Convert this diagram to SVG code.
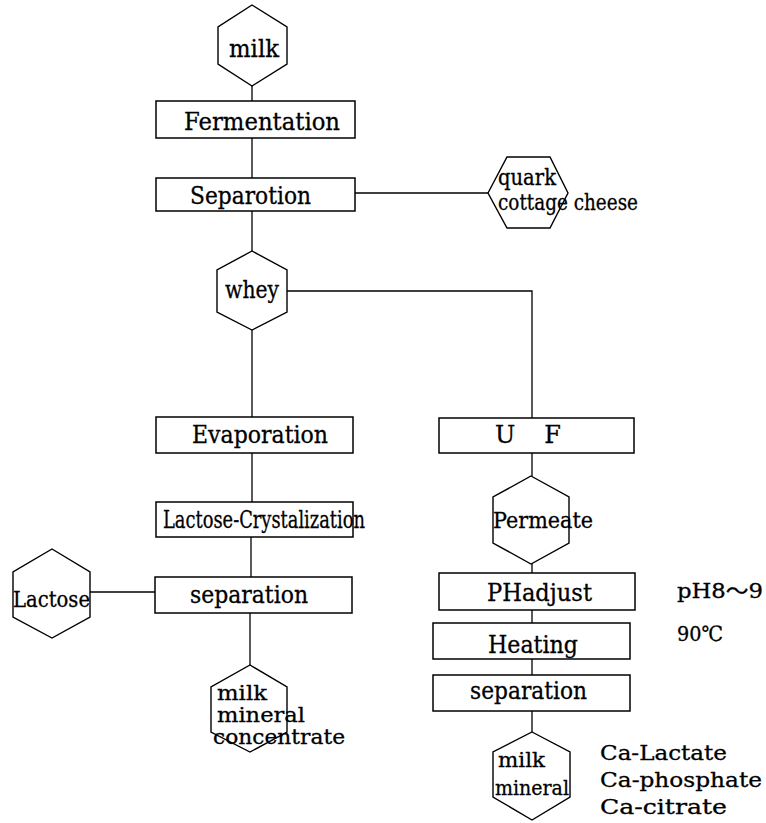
<svg xmlns="http://www.w3.org/2000/svg" width="766" height="823" viewBox="0 0 766 823">
  <style>
    .box { fill: #fff; stroke: #000; stroke-width: 1.5; }
    .hex { fill: #fff; stroke: #000; stroke-width: 1.4; }
    .link { fill: none; stroke: #000; stroke-width: 1.3; }
    text { font-family: "DejaVu Serif", "Liberation Serif", "Noto Sans CJK JP", serif; font-size: 24px; fill: #000; stroke: #000; stroke-width: 0.3; }
    .mid { font-size: 22px; }
    .small { font-size: 20px; }
    .note { font-size: 21px; }
  </style>

  <!-- connectors -->
  <g id="connectors">
    <path class="link" d="M252,86 V101"/>
    <path class="link" d="M252,138 V178"/>
    <path class="link" d="M355,193 H488"/>
    <path class="link" d="M252,211 V251"/>
    <path class="link" d="M287,291 H532 V418"/>
    <path class="link" d="M252,330 V417"/>
    <path class="link" d="M252,453 V502"/>
    <path class="link" d="M251,537 V577"/>
    <path class="link" d="M90,592 H155"/>
    <path class="link" d="M250,613 V665"/>
    <path class="link" d="M532,453 V476"/>
    <path class="link" d="M532,564 V573"/>
    <path class="link" d="M532,610 V623"/>
    <path class="link" d="M532,659 V675"/>
    <path class="link" d="M532,711 V732"/>
  </g>

  <!-- left column -->
  <g id="milk">
    <polygon class="hex" points="252,5 287,27 287,64 252,86 218,64 218,27"/>
    <text x="229" y="57" textLength="50" lengthAdjust="spacingAndGlyphs">milk</text>
  </g>
  <g id="fermentation">
    <rect class="box" x="156" y="101" width="199" height="37"/>
    <text x="184" y="130" textLength="156" lengthAdjust="spacingAndGlyphs">Fermentation</text>
  </g>
  <g id="separotion">
    <rect class="box" x="156" y="178" width="199" height="33"/>
    <text x="190" y="204" textLength="121" lengthAdjust="spacingAndGlyphs">Separotion</text>
  </g>
  <g id="quark">
    <polygon class="hex" points="488,193 507,157 550,157 568,193 550,228 507,228"/>
    <text class="mid" x="498" y="185" textLength="58" lengthAdjust="spacingAndGlyphs">quark</text>
    <text class="mid" x="498" y="210" textLength="140" lengthAdjust="spacingAndGlyphs">cottage cheese</text>
  </g>
  <g id="whey">
    <polygon class="hex" points="252,251 287,270 287,312 252,330 217,312 217,270"/>
    <text x="225" y="298" textLength="54" lengthAdjust="spacingAndGlyphs">whey</text>
  </g>
  <g id="evaporation">
    <rect class="box" x="156" y="417" width="197" height="36"/>
    <text x="192" y="443" textLength="136" lengthAdjust="spacingAndGlyphs">Evaporation</text>
  </g>
  <g id="crystalization">
    <rect class="box" x="156" y="502" width="197" height="35"/>
    <text x="163" y="528" textLength="202" lengthAdjust="spacingAndGlyphs">Lactose-Crystalization</text>
  </g>
  <g id="separation-left">
    <rect class="box" x="155" y="577" width="197" height="36"/>
    <text x="190" y="603" textLength="118" lengthAdjust="spacingAndGlyphs">separation</text>
  </g>
  <g id="lactose">
    <polygon class="hex" points="52,549 90,572 90,617 52,638 13,617 13,572"/>
    <text class="mid" x="13" y="607" textLength="77" lengthAdjust="spacingAndGlyphs">Lactose</text>
  </g>
  <g id="mineral-concentrate">
    <polygon class="hex" points="250,665 287,687 287,732 250,752 211,732 211,687"/>
    <text class="small" x="217" y="700" textLength="50" lengthAdjust="spacingAndGlyphs">milk</text>
    <text class="small" x="217" y="722" textLength="88" lengthAdjust="spacingAndGlyphs">mineral</text>
    <text class="small" x="213" y="744" textLength="132" lengthAdjust="spacingAndGlyphs">concentrate</text>
  </g>

  <!-- right column -->
  <g id="uf">
    <rect class="box" x="439" y="418" width="195" height="35"/>
    <text x="495" y="443" textLength="66" lengthAdjust="spacing">U F</text>
  </g>
  <g id="permeate">
    <polygon class="hex" points="531,476 569,497 569,543 531,564 493,543 493,497"/>
    <text class="mid" x="493" y="528" textLength="100" lengthAdjust="spacingAndGlyphs">Permeate</text>
  </g>
  <g id="phadjust">
    <rect class="box" x="439" y="573" width="196" height="37"/>
    <text x="487" y="601" textLength="105" lengthAdjust="spacingAndGlyphs">PHadjust</text>
  </g>
  <g id="heating">
    <rect class="box" x="433" y="623" width="197" height="36"/>
    <text x="488" y="653" textLength="90" lengthAdjust="spacingAndGlyphs">Heating</text>
  </g>
  <g id="separation-right">
    <rect class="box" x="433" y="675" width="197" height="36"/>
    <text x="470" y="699" textLength="117" lengthAdjust="spacingAndGlyphs">separation</text>
  </g>
  <g id="milk-mineral">
    <polygon class="hex" points="532,732 570,752 570,797 532,820 493,797 493,752"/>
    <text class="small" x="498" y="767" textLength="47" lengthAdjust="spacingAndGlyphs">milk</text>
    <text class="small" x="495" y="795" textLength="74" lengthAdjust="spacingAndGlyphs">mineral</text>
  </g>

  <!-- process conditions and products -->
  <g id="conditions">
    <text class="note" x="677" y="598" textLength="86" lengthAdjust="spacingAndGlyphs">pH8〜9</text>
    <text class="note" x="677" y="641" textLength="46" lengthAdjust="spacingAndGlyphs">90℃</text>
  </g>
  <g id="products">
    <text class="note" x="600" y="760" textLength="127" lengthAdjust="spacingAndGlyphs">Ca-Lactate</text>
    <text class="note" x="600" y="787" textLength="162" lengthAdjust="spacingAndGlyphs">Ca-phosphate</text>
    <text class="note" x="600" y="814" textLength="127" lengthAdjust="spacingAndGlyphs">Ca-citrate</text>
  </g>
</svg>
